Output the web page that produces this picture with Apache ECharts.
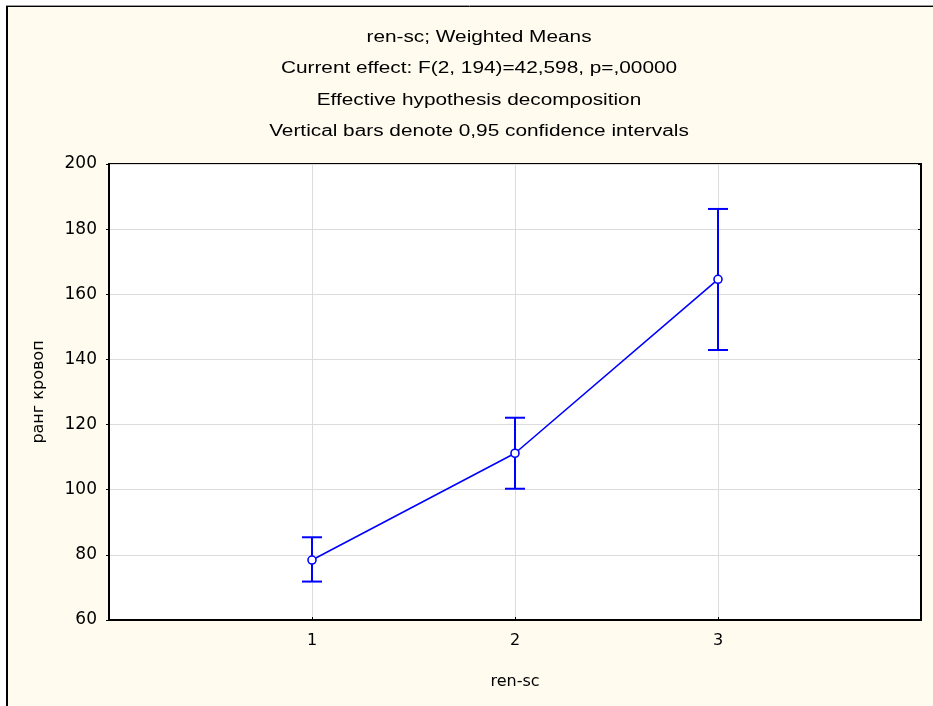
<!DOCTYPE html>
<html>
<head>
<meta charset="utf-8">
<script src="https://cdn.jsdelivr.net/npm/echarts@6/dist/echarts.min.js"></script>
<style>
  html, body { margin: 0; padding: 0; background: #ffffff; }
  #chart { width: 933px; height: 706px; }
</style>
</head>
<body>
<div id="chart"></div>
<script>
// Group levels of ren-sc and their weighted means with 0,95 confidence limits
const categories = [1, 2, 3];
const means = [78.4, 111.2, 164.6];
const upperCI = [85.4, 122.1, 186.2];
const lowerCI = [71.8, 100.3, 142.9];
const yTicks = [60, 80, 100, 120, 140, 160, 180, 200];
const titleLines = [
  'ren-sc; Weighted Means',
  'Current effect: F(2, 194)=42,598, p=,00000',
  'Effective hypothesis decomposition',
  'Vertical bars denote 0,95 confidence intervals'
];
const xName = 'ren-sc';
const yName = 'ранг кровоп';

const FONT_TITLE = '"Liberation Sans", Arial, sans-serif';
const FONT_AXIS = '"DejaVu Sans", "Liberation Sans", sans-serif';
const BLUE = '#0000ff';
const CREAM = '#fffbef';
const W = 933, H = 706;

const chart = echarts.init(document.getElementById('chart'), null, { renderer: 'canvas' });

const meanData = categories.map((c, i) => [c, means[i]]);
const ciData = categories.map((c, i) => [c, lowerCI[i], upperCI[i]]);

// Header lines, drawn slightly wide to suit the panel's proportions
const titleGraphics = titleLines.map((line, i) => ({
  type: 'text',
  z: 20,
  x: 479,
  y: 37.5 + i * 31.5,
  scaleX: 1.3,
  style: {
    text: line,
    x: 0, y: 0,
    align: 'center',
    verticalAlign: 'middle',
    font: '16px ' + FONT_TITLE,
    fill: '#000000'
  }
}));

const option = {
  backgroundColor: '#ffffff',
  animation: false,
  graphic: [
    { type: 'rect', z: -10, shape: { x: 7, y: 7, width: W - 7, height: H - 7 }, style: { fill: CREAM } },
    { type: 'line', z: 10, shape: { x1: 6, y1: 5.5, x2: W, y2: 5.5 }, style: { stroke: '#9a9a9a', lineWidth: 1 } },
    { type: 'line', z: 10, shape: { x1: 6, y1: 6.5, x2: W, y2: 6.5 }, style: { stroke: '#000000', lineWidth: 1 } },
    { type: 'line', z: 10, shape: { x1: 7, y1: 6, x2: 7, y2: H }, style: { stroke: '#000000', lineWidth: 2 } }
  ].concat(titleGraphics),
  grid: {
    left: 109, right: 12, top: 164, bottom: 86,
    show: true,
    backgroundColor: '#ffffff',
    borderColor: '#000000',
    borderWidth: 2
  },
  xAxis: [{
    type: 'value',
    min: 0, max: 4, interval: 1,
    name: xName,
    nameLocation: 'middle',
    nameGap: 54,
    nameTextStyle: { fontFamily: FONT_AXIS, fontSize: 16, color: '#000' },
    axisLine: { show: true, onZero: false, lineStyle: { color: '#000', width: 2 } },
    axisTick: { show: true, inside: true, length: 3, lineStyle: { color: '#000' } },
    axisLabel: {
      margin: 13,
      fontFamily: FONT_AXIS, fontSize: 16, color: '#000',
      formatter: v => (categories.indexOf(v) >= 0 ? String(v) : '')
    },
    splitLine: { show: true, lineStyle: { color: '#dcdcdc', width: 1 } }
  }],
  yAxis: [{
    type: 'value',
    min: 60, max: 200, interval: 20,
    name: yName,
    nameLocation: 'middle',
    nameGap: 62,
    nameRotate: 90,
    nameTextStyle: { fontFamily: FONT_AXIS, fontSize: 16, color: '#000' },
    axisLine: { show: true, lineStyle: { color: '#000', width: 2 } },
    axisTick: { show: true, inside: false, length: 3, lineStyle: { color: '#000' } },
    axisLabel: {
      margin: 12,
      fontFamily: FONT_AXIS, fontSize: 17, color: '#000',
      formatter: v => (yTicks.indexOf(v) >= 0 ? String(v) : '')
    },
    splitLine: { show: true, lineStyle: { color: '#dcdcdc', width: 1 } }
  }, {
    type: 'value',
    position: 'right',
    min: 60, max: 200, interval: 20,
    axisLine: { show: true, lineStyle: { color: '#000', width: 2 } },
    axisTick: { show: true, inside: true, length: 3, lineStyle: { color: '#000' } },
    axisLabel: { show: false },
    splitLine: { show: false }
  }],
  series: [
    {
      type: 'custom',
      name: 'CI',
      z: 3,
      data: ciData,
      renderItem: function (params, api) {
        const x = api.value(0);
        const lo = api.coord([x, api.value(1)]);
        const hi = api.coord([x, api.value(2)]);
        const half = 10;
        const style = { stroke: BLUE, lineWidth: 2, fill: null };
        return {
          type: 'group',
          children: [
            { type: 'line', shape: { x1: lo[0], y1: lo[1], x2: hi[0], y2: hi[1] }, style: style },
            { type: 'line', shape: { x1: hi[0] - half, y1: hi[1], x2: hi[0] + half, y2: hi[1] }, style: style },
            { type: 'line', shape: { x1: lo[0] - half, y1: lo[1], x2: lo[0] + half, y2: lo[1] }, style: style }
          ]
        };
      }
    },
    {
      type: 'line',
      name: 'Mean',
      z: 4,
      data: meanData,
      symbol: 'circle',
      symbolSize: 8,
      itemStyle: { color: '#ffffff', borderColor: BLUE, borderWidth: 1.6 },
      lineStyle: { color: BLUE, width: 1.6 },
      emphasis: { disabled: true }
    }
  ]
};

chart.setOption(option);
</script>
</body>
</html>
